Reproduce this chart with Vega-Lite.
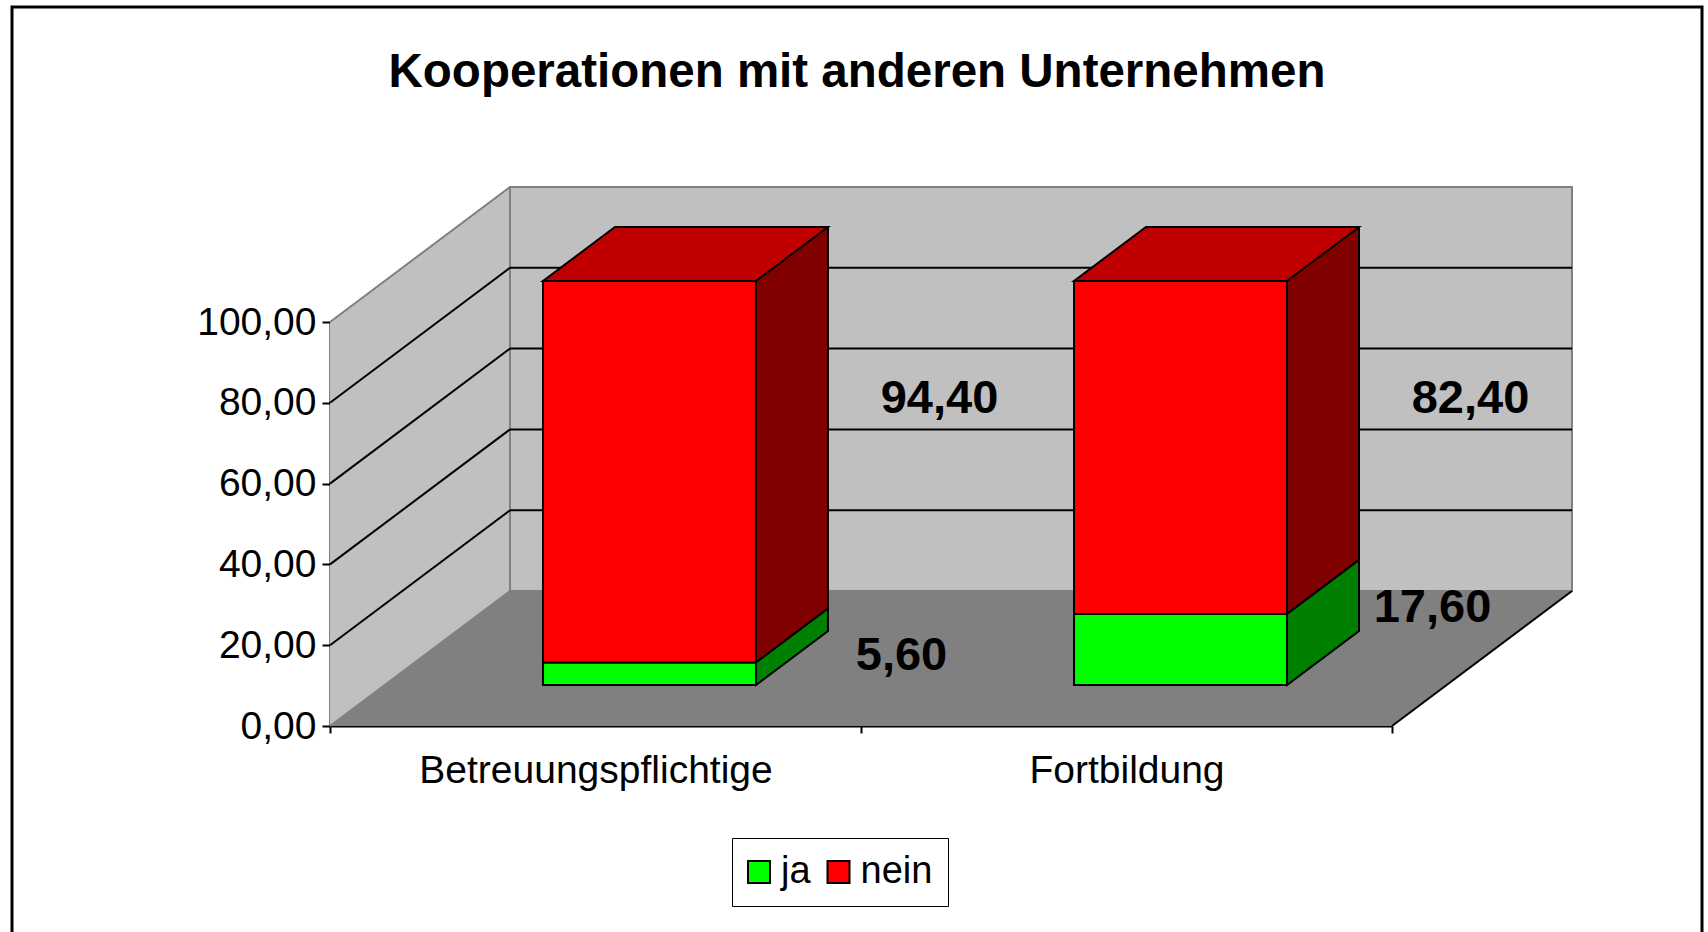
{
  "$schema": "https://vega.github.io/schema/vega-lite/v6.json",
  "autosize": {"type": "none"},
  "padding": {"left": 330, "top": 322, "right": 316, "bottom": 206},
  "width": 1062,
  "height": 404,
  "background": "white",
  "title": {"text": "Kooperationen mit anderen Unternehmen", "fontSize": 47.5, "fontWeight": "bold", "color": "black", "anchor": "middle", "frame": "group", "offset": -91, "dx": -4},
  "data": {"values": [
    {"cat": "Betreuungspflichtige", "ans": "ja", "value": 5.6},
    {"cat": "Betreuungspflichtige", "ans": "nein", "value": 94.4},
    {"cat": "Fortbildung", "ans": "ja", "value": 17.6},
    {"cat": "Fortbildung", "ans": "nein", "value": 82.4}
  ]},
  "transform": [
    {"stack": "value", "groupby": ["cat"], "sort": [{"field": "ans", "order": "ascending"}], "as": ["y0", "y1"]}
  ],
  "layer": [
    {
      "data": {"values": [{}]},
      "mark": {"type": "point", "shape": "M0,0 L0,-404 L180,-539 L180,-135 Z", "size": 4, "filled": true, "fill": "#C0C0C0", "opacity": 1, "strokeWidth": 0},
      "encoding": {
        "x": {"datum": "Betreuungspflichtige", "bandPosition": 0, "title": null},
        "y": {"datum": 0, "title": null}
      }
    },
    {
      "data": {"values": [{}]},
      "mark": {"type": "point", "shape": "M0,0 L1062,0 L1242,-135 L180,-135 Z", "size": 4, "filled": true, "fill": "#808080", "opacity": 1, "strokeWidth": 0},
      "encoding": {
        "x": {"datum": "Betreuungspflichtige", "bandPosition": 0, "title": null},
        "y": {"datum": 0, "title": null}
      }
    },
    {
      "data": {"values": [{}]},
      "mark": {"type": "rect", "fill": "#C0C0C0", "stroke": "#808080", "strokeWidth": 2, "xOffset": 180, "x2Offset": 180, "yOffset": -135, "y2Offset": -135},
      "encoding": {
        "x": {"datum": "Betreuungspflichtige", "bandPosition": 0, "title": null},
        "x2": {"datum": "Fortbildung", "bandPosition": 1},
        "y": {"datum": 0, "title": null},
        "y2": {"datum": 100}
      }
    },
    {
      "data": {"values": [{"v": 20}, {"v": 40}, {"v": 60}, {"v": 80}]},
      "mark": {"type": "rule", "stroke": "black", "strokeWidth": 2, "xOffset": 180, "x2Offset": 180, "yOffset": -135},
      "encoding": {
        "x": {"datum": "Betreuungspflichtige", "bandPosition": 0, "title": null},
        "x2": {"datum": "Fortbildung", "bandPosition": 1},
        "y": {"field": "v", "type": "quantitative", "title": null}
      }
    },
    {
      "data": {"values": [{"v": 0}, {"v": 20}, {"v": 40}, {"v": 60}, {"v": 80}, {"v": 100}]},
      "mark": {"type": "rule", "strokeWidth": 2, "x2Offset": 180, "y2Offset": -135},
      "encoding": {
        "x": {"datum": "Betreuungspflichtige", "bandPosition": 0, "title": null},
        "x2": {"datum": "Betreuungspflichtige", "bandPosition": 0},
        "y": {"field": "v", "type": "quantitative", "title": null},
        "y2": {"field": "v"},
        "stroke": {"condition": {"test": "datum.v == 0 || datum.v == 100", "value": "#808080"}, "value": "black"}
      }
    },
    {
      "data": {"values": [{}]},
      "mark": {"type": "rule", "stroke": "black", "strokeWidth": 2, "x2Offset": 180, "y2Offset": -135},
      "encoding": {
        "x": {"datum": "Fortbildung", "bandPosition": 1, "title": null},
        "x2": {"datum": "Fortbildung", "bandPosition": 1},
        "y": {"datum": 0, "title": null},
        "y2": {"datum": 0}
      }
    },
    {
      "mark": {"type": "bar", "width": {"band": 0.401}, "xOffset": 126, "yOffset": -95, "y2Offset": -95, "strokeWidth": 0},
      "encoding": {
        "x": {"field": "cat", "type": "nominal", "title": null},
        "y": {"field": "y0", "type": "quantitative", "title": null},
        "y2": {"field": "y1"},
        "fill": {"condition": {"test": "datum.ans == 'ja'", "value": "#008000"}, "value": "#800000"}
      }
    },
    {
      "mark": {"type": "point", "shape": "M72,-56 L72,-54 L0,0 L0,-56", "size": 4, "filled": true, "opacity": 1, "stroke": "black", "strokeWidth": 2, "xOffset": 160.5, "yOffset": -41},
      "encoding": {
        "x": {"field": "cat", "type": "nominal", "title": null},
        "y": {"field": "y0", "type": "quantitative", "title": null},
        "fill": {"condition": {"test": "datum.ans == 'ja'", "value": "#008000"}, "value": "#800000"}
      }
    },
    {
      "transform": [{"filter": "datum.ans == 'nein'"}],
      "mark": {"type": "point", "shape": "M-106.5,0 L106.5,0 L178.5,-54 L-34.5,-54 Z", "size": 4, "filled": true, "fill": "#C00000", "opacity": 1, "stroke": "black", "strokeWidth": 2, "xOffset": 54, "yOffset": -41},
      "encoding": {
        "x": {"field": "cat", "type": "nominal", "title": null},
        "y": {"field": "y1", "type": "quantitative", "title": null}
      }
    },
    {
      "mark": {"type": "rule", "stroke": "black", "strokeWidth": 2, "xOffset": 232.5, "yOffset": -95, "y2Offset": -95},
      "encoding": {
        "x": {"field": "cat", "type": "nominal", "title": null},
        "y": {"field": "y0", "type": "quantitative", "title": null},
        "y2": {"field": "y1"}
      }
    },
    {
      "mark": {"type": "bar", "width": {"band": 0.401}, "xOffset": 54, "yOffset": -41, "y2Offset": -41, "stroke": "black", "strokeWidth": 2, "opacity": 1},
      "encoding": {
        "x": {
          "field": "cat", "type": "nominal", "title": null,
          "scale": {"type": "band", "paddingInner": 0, "paddingOuter": 0, "domain": ["Betreuungspflichtige", "Fortbildung"]},
          "axis": {"tickBand": "extent", "labelAngle": 0, "labelAlign": "center", "tickSize": 7, "labelPadding": 37, "labelLimit": 0}
        },
        "y": {
          "field": "y0", "type": "quantitative", "title": null,
          "scale": {"domain": [0, 100], "nice": false, "zero": true},
          "axis": {"values": [0, 20, 40, 60, 80, 100], "format": ".2f", "tickSize": 8, "labelPadding": 6, "grid": false}
        },
        "y2": {"field": "y1"},
        "color": {
          "field": "ans", "type": "nominal", "title": null,
          "scale": {"domain": ["ja", "nein"], "range": ["#00FF00", "#FF0000"]},
          "legend": {
            "orient": "none", "legendX": 402, "legendY": 516, "direction": "horizontal",
            "symbolType": "square", "symbolSize": 484, "symbolStrokeColor": "black", "symbolStrokeWidth": 2, "symbolOpacity": 1, "symbolOffset": -7,
            "labelFontSize": 38, "labelColor": "black", "labelOffset": 3, "columnPadding": 12.5,
            "padding": 15, "strokeColor": "black", "fillColor": "white"
          }
        }
      }
    },
    {
      "transform": [{"filter": "datum.ans == 'nein'"}],
      "mark": {"type": "text", "fontSize": 47, "fontWeight": "bold", "color": "black", "baseline": "alphabetic", "align": "center", "xOffset": 344, "yOffset": 91},
      "encoding": {
        "x": {"field": "cat", "type": "nominal", "title": null},
        "y": {"field": "y1", "type": "quantitative", "title": null},
        "text": {"field": "value", "type": "quantitative", "format": ".2f"}
      }
    },
    {
      "transform": [{"filter": "datum.ans == 'ja'"}],
      "mark": {"type": "text", "fontSize": 47, "fontWeight": "bold", "color": "black", "baseline": "alphabetic", "align": "center", "xOffset": 306, "yOffset": -33},
      "encoding": {
        "x": {"field": "cat", "type": "nominal", "title": null},
        "y": {"field": "y1", "type": "quantitative", "title": null},
        "text": {"field": "value", "type": "quantitative", "format": ".2f"}
      }
    },
    {
      "data": {"values": [{}]},
      "mark": {"type": "rect", "fill": "transparent", "stroke": "black", "strokeWidth": 3, "xOffset": -318, "x2Offset": 310, "yOffset": -315, "y2Offset": 212},
      "encoding": {
        "x": {"datum": "Betreuungspflichtige", "bandPosition": 0, "title": null},
        "x2": {"datum": "Fortbildung", "bandPosition": 1},
        "y": {"datum": 100, "title": null},
        "y2": {"datum": 0}
      }
    }
  ],
  "config": {
    "font": "Liberation Sans",
    "view": {"stroke": null},
    "locale": {"number": {"decimal": ",", "thousands": ".", "grouping": [3], "currency": ["", " €"]}},
    "axis": {
      "zindex": 1,
      "domainColor": "black", "domainWidth": 2,
      "tickColor": "black", "tickWidth": 2,
      "labelFontSize": 39, "labelColor": "black", "labelFont": "Liberation Sans",
      "grid": false
    }
  }
}
